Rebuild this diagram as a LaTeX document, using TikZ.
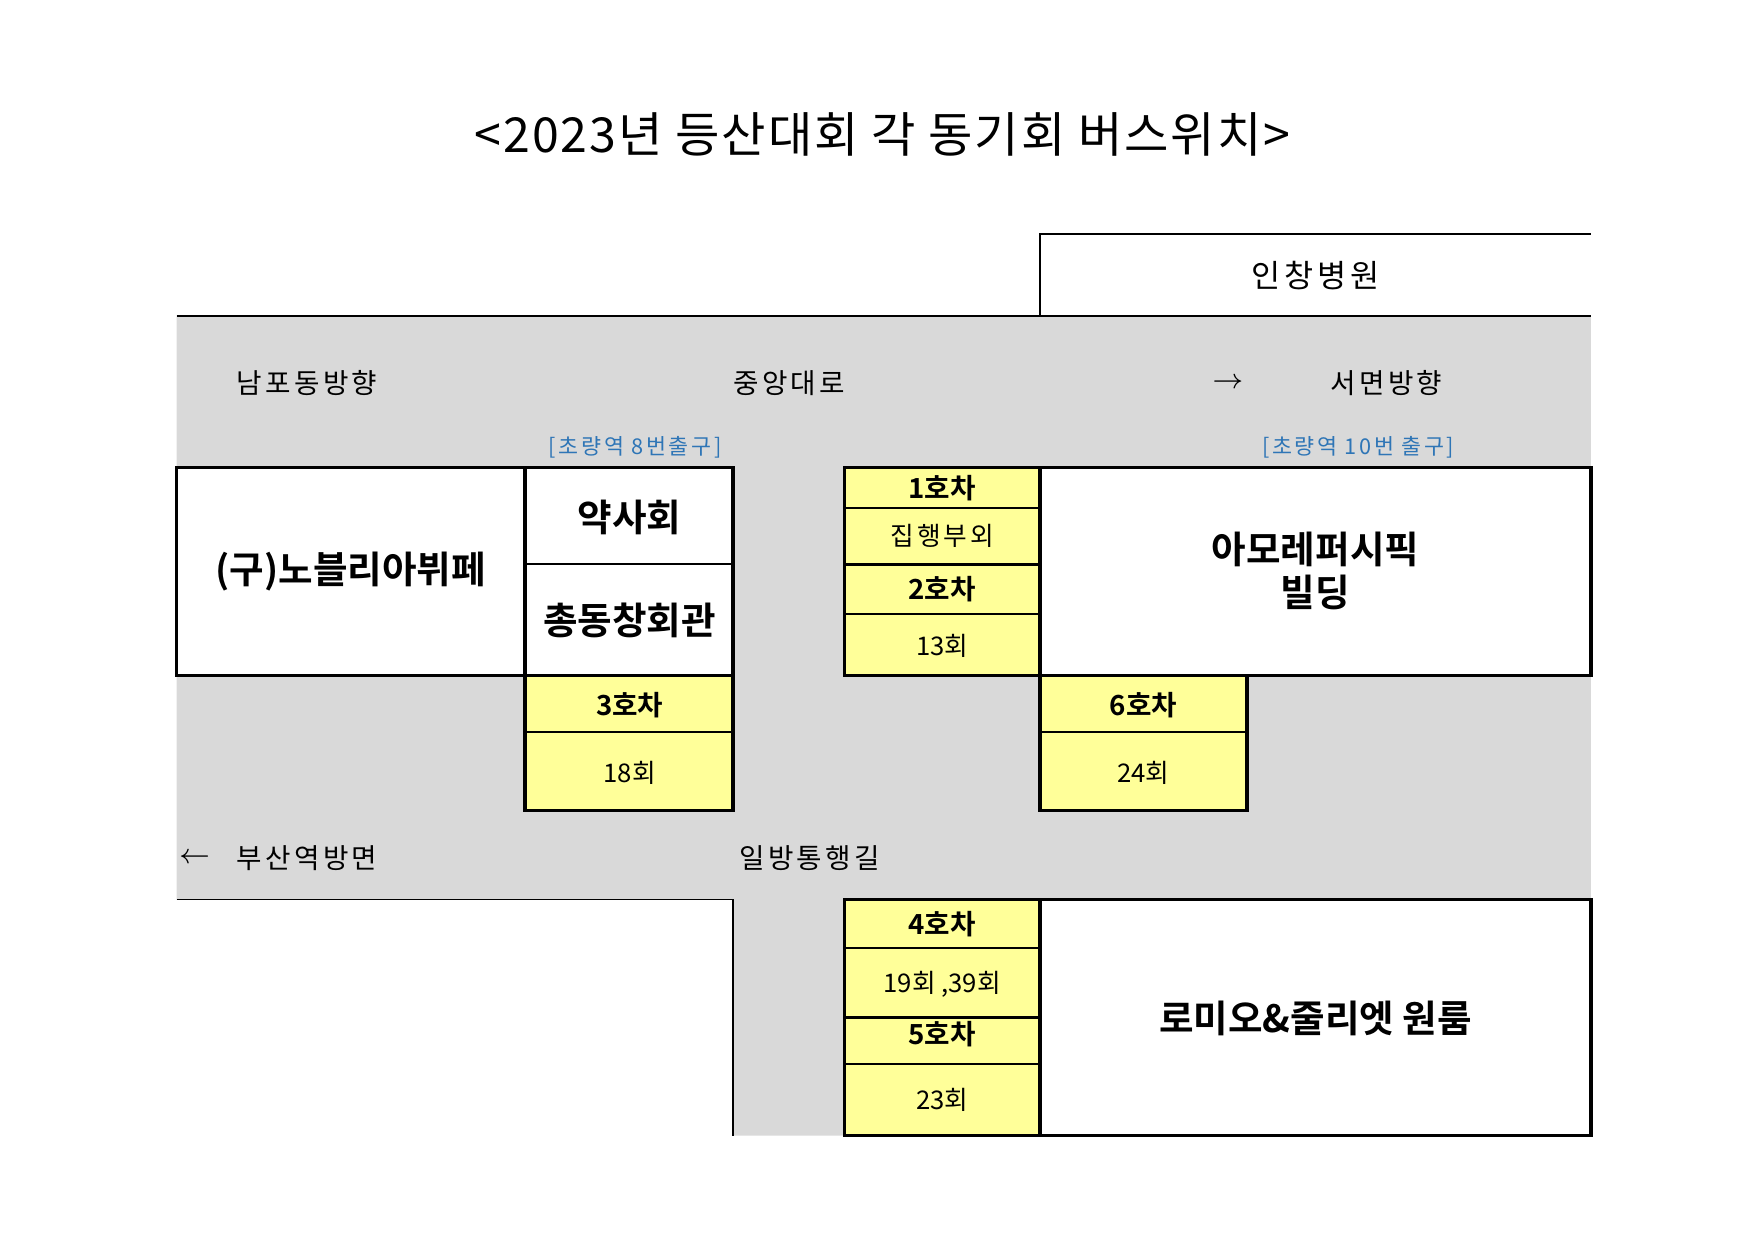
\documentclass[tikz,border=0pt]{standalone}
\usepackage{fontspec}
\setmainfont{Noto Sans CJK KR}
\newfontfamily\kb{Noto Sans CJK KR Bold}
\newfontfamily\ksp[LetterSpace=12]{Noto Sans CJK KR}
\newfontfamily\ktt[LetterSpace=4]{Noto Sans CJK KR}
\definecolor{road}{HTML}{D9D9D9}
\definecolor{yel}{HTML}{FFFF99}
\definecolor{lblue}{HTML}{2E75B6}
\begin{document}
\begin{tikzpicture}[x=0.01cm,y=-0.01cm,
  bx/.style={draw=black,line width=0.85pt,fill=white},
  yb/.style={draw=black,line width=0.85pt,fill=yel},
  thin/.style={line width=0.5pt},
  lab/.style={font=\ksp\fontsize{7}{8}\selectfont},
  big/.style={font=\kb\fontsize{9.5}{11}\selectfont,align=center},
  car/.style={font=\kb\fontsize{7}{8}\selectfont},
  sm/.style={font=\fontsize{6.5}{8}\selectfont},
  blu/.style={font=\ksp\fontsize{5.5}{7}\selectfont,text=lblue}]
\useasboundingbox (0,0) rectangle (1560,1103);
\node (title) at (785,120) {\ktt\fontsize{12.2}{14}\selectfont <2023년 등산대회 각 동기회 버스위치>};
% road
\fill[road] (157,281)--(1415,281)--(1415,800)--(750,800)--(750,1010)--(652,1010)--(652,800)--(157,800)--cycle;
\draw[thin] (157,281)--(1415,281);
\draw[thin] (925,281)--(925,208)--(1415,208);
\draw[thin] (157,800)--(652,800)--(652,1010);
\node[lab] (hos) at (1170,245) {\fontsize{8}{9}\selectfont 인창병원};
\node[lab] (nam) at (273,341) {남포동방향};
\node[lab] (jung) at (702,341) {중앙대로};
\node[lab] (ra) at (1092,341) {$\rightarrow$};
\node[lab] (seo) at (1233,341) {서면방향};
\node[blu] (ex8) at (565,398) {[초량역 8번출구]};
\node[blu] (ex10) at (1208,398) {[초량역 10번 출구]};
\node[lab] (la) at (173,763) {$\leftarrow$};
\node[lab] (bus) at (273,763) {부산역방면};
\node[lab] (il) at (720,763) {일방통행길};
% left block
\draw[bx] (157,416) rectangle (467,601);
\node[big] (nob) at (312,508) {(구)노블리아뷔페};
\draw[bx] (467,416) rectangle (652,601);
\draw[thin] (467,502)--(652,502);
\node[big] (yak) at (560,460) {약사회};
\node[big] (chong) at (560,552) {총동창회관};
\draw[yb] (467,601) rectangle (652,721);
\draw[thin] (467,651)--(652,651);
\node[car] (c3) at (560,627) {3호차};
\node[sm] (g18) at (560,687) {18회};
% middle
\draw[yb] (751,416) rectangle (925,601);
\draw[thin] (751,452)--(925,452);
\draw[line width=0.85pt] (751,502)--(925,502);
\draw[thin] (751,546)--(925,546);
\node[car] (c1) at (838,434) {1호차};
\node[sm] (jip) at (838,477) {\ksp 집행부외};
\node[car] (c2) at (838,524) {2호차};
\node[sm] (g13) at (838,574) {13회};
\draw[bx] (925,416) rectangle (1415,601);
\node[big] (amo) at (1170,508) {아모레퍼시픽\\빌딩};
\draw[yb] (925,601) rectangle (1109,721);
\draw[thin] (925,651)--(1109,651);
\node[car] (c6) at (1017,627) {6호차};
\node[sm] (g24) at (1017,687) {24회};
% bottom
\draw[yb] (751,800) rectangle (925,1010);
\draw[thin] (751,843)--(925,843);
\draw[line width=0.85pt] (751,905)--(925,905);
\draw[thin] (751,946)--(925,946);
\node[car] (c4) at (838,822) {4호차};
\node[sm] (g19) at (838,875) {19회 ,39회};
\node[car] (c5) at (838,920) {5호차};
\node[sm] (g23) at (838,978) {23회};
\draw[bx] (925,800) rectangle (1415,1010);
\node[big] (rom) at (1170,906) {로미오\&줄리엣 원룸};
\end{tikzpicture}
\end{document}
